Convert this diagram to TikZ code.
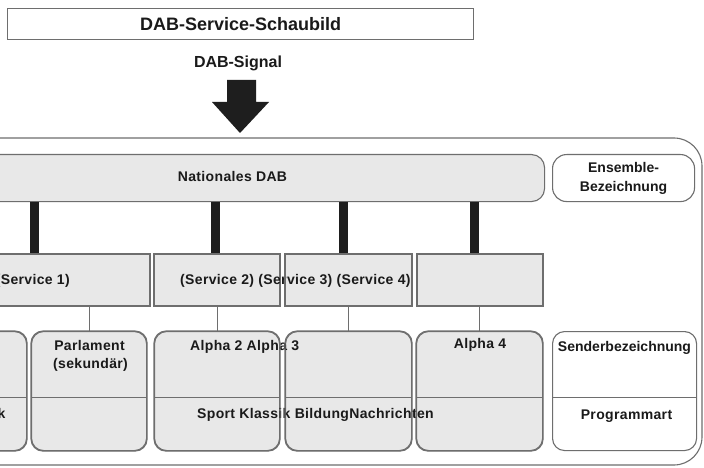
\documentclass[tikz,border=0pt]{standalone}
\usepackage{fontspec}
\setmainfont{Liberation Sans}
\definecolor{boxgray}{HTML}{E8E8E8}
\definecolor{linegray}{HTML}{6E6E6E}
\definecolor{barblack}{HTML}{1E1E1E}
\definecolor{txt}{HTML}{1A1A1A}
\begin{document}
\begin{tikzpicture}[x=1pt,y=-1pt,
  line/.style={draw=linegray, line width=1.1pt},
  sq/.style={line, fill=boxgray, inner sep=0pt, anchor=north west},
  prog/.style={sq, rounded corners=12pt, minimum height=119pt},
  lbl/.style={text=txt, font=\bfseries\fontsize{14}{19}\selectfont\addfontfeature{LetterSpace=2.5}, inner sep=0pt},
  lbln/.style={text=txt, font=\bfseries\fontsize{14}{19}\selectfont, inner sep=0pt},
  bar/.style={draw=barblack, line width=9pt},
  thin/.style={draw=linegray, line width=1.1pt}]
\useasboundingbox (0,0) rectangle (704,468);
\clip (0,0) rectangle (704,468);
\fill[white] (0,0) rectangle (704,468);

% title and signal
\node[line, fill=white, anchor=north west, minimum width=466pt, minimum height=31pt, inner sep=0pt, text=txt, font=\bfseries\fontsize{18}{20}\selectfont] (title) at (7,8) {DAB-Service-Schaubild};
\node[lbln, font=\bfseries\fontsize{16}{18}\selectfont, anchor=base] (signal) at (238,68) {DAB-Signal};
\fill[barblack] (227,80) -- (256,80) -- (256,102) -- (269,102) -- (240,133) -- (212,102) -- (227,102) -- cycle;

% outer frame
\draw[line, rounded corners=28pt] (-60,138) -- (702,138) -- (702,465) -- (-60,465);

% ensemble row
\node[sq, rounded corners=13pt, minimum width=604pt, minimum height=47pt] (band) at (-60,154) {};
\node[line, fill=white, rounded corners=14pt, minimum width=142pt, minimum height=47pt, anchor=north west, lbln, align=center] (ens) at (552,154) {Ensemble-\\Bezeichnung};

% service boxes
\node[sq, minimum width=209pt, minimum height=51pt] (s1) at (-60,254) {};
\node[sq, minimum width=125pt, minimum height=51pt] (s2) at (154,254) {};
\node[sq, minimum width=126pt, minimum height=51pt] (s3) at (285,254) {};
\node[sq, minimum width=125pt, minimum height=51pt] (s4) at (417,254) {};

% program boxes
\node[prog, minimum width=86pt] (p1) at (-60,331) {};
\node[prog, minimum width=115pt] (p2) at (31,331) {};
\node[prog, minimum width=125pt] (p3) at (154,331) {};
\node[prog, minimum width=126pt] (p4) at (285,331) {};
\node[prog, minimum width=126pt] (p5) at (416,331) {};
\node[prog, fill=white, minimum width=144pt] (send) at (552,331) {};

% thick bars from ensemble to services
\coordinate (b1) at ([xshift=-11pt]s1.north);
\coordinate (b2) at ([xshift=-1.5pt]s2.north);
\coordinate (b3) at ([xshift=-5pt]s3.north);
\coordinate (b4) at ([xshift=-6pt]s4.north);
\foreach \b in {b1,b2,b3,b4} \draw[bar] (\b) -- (\b |- band.south);

% thin connectors from services to programmes
\draw[thin] (p2.north) -- (p2.north |- s1.south);
\draw[thin] (p3.north) -- (p3.north |- s2.south);
\draw[thin] (p4.north) -- (p4.north |- s3.south);
\draw[thin] (p5.north) -- (p5.north |- s4.south);

% texts
\node[lbl, anchor=base] (nat) at (232.5,182) {Nationales DAB};
\node[lbl, anchor=base east] (sv1) at (70,284) {(Service 1)};
\node[lbl, anchor=base west] (sv234) at (180,284) {(Service 2) (Service 3) (Service 4)};
\node[lbl, anchor=base east] (p1t) at (5.5,418) {Musik};
\node[lbl, anchor=base] (parl1) at (89.5,350) {Parlament};
\node[lbl, anchor=base] (parl2) at (90.5,368) {(sekundär)};
\node[lbl, anchor=base west] (alpha23) at (190,350) {Alpha 2 Alpha 3};
\node[lbl, anchor=base] (alpha4) at (480,348) {Alpha 4};
\node[lbl, anchor=base west] (genres) at (197,418) {Sport Klassik BildungNachrichten};
\node[lbln, anchor=base] (sender) at (624.5,351) {Senderbezeichnung};
\node[lbl, anchor=base] (pa) at (626.5,419) {Programmart};

% borders over the text, and dividers
\foreach \n in {s1,s2,s3,s4} \draw[line] (\n.north west) rectangle (\n.south east);
\foreach \n in {p1,p2,p3,p4,p5} \draw[line, rounded corners=12pt] (\n.north west) rectangle (\n.south east);
\foreach \n in {p1,p2,p3,p4,p5,send} \draw[line] ([yshift=-6.5pt]\n.west) -- ([yshift=-6.5pt]\n.east);
\end{tikzpicture}
\end{document}
